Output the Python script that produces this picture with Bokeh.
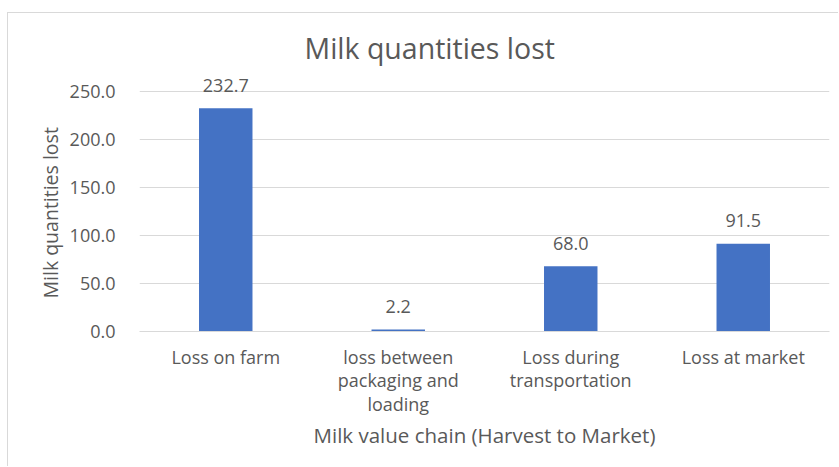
import math
from bokeh.plotting import figure
from bokeh.models import (ColumnDataSource, FactorRange, Range1d, FixedTicker,
                          NumeralTickFormatter, LabelSet, Title)
from bokeh.core.properties import value
from bokeh.embed import file_html
from bokeh.resources import INLINE

# ---- data ----
categories = ["Loss on farm",
              "loss between\npackaging and\nloading",
              "Loss during\ntransportation",
              "Loss at market"]
values = [232.7, 2.2, 68.0, 91.5]
value_labels = [f"{v:.1f}" for v in values]
y_ticks = [0, 50, 100, 150, 200, 250]
title_text = "Milk quantities lost"
y_title = "Milk quantities lost"
x_title = "Milk value chain (Harvest to Market)"

FONT = "Open Sans"
GREY = "#595959"
BLUE = "#4472C4"
FS = "18px"

src = ColumnDataSource(dict(cat=categories, val=values, lab=value_labels))

p = figure(width=831, height=454, output_backend="svg", toolbar_location=None,
           x_range=FactorRange(*categories), y_range=Range1d(0, 268),
           min_border_left=131, min_border_right=10,
           min_border_top=61, min_border_bottom=136)
p.styles = {"margin-left": "7px", "margin-top": "12px",
            "border-left": "1px solid #d9d9d9", "border-top": "1px solid #d9d9d9"}
p.outline_line_color = None
p.background_fill_color = "white"
p.border_fill_color = "white"

p.vbar(x="cat", top="val", width=0.31, source=src, color=BLUE, line_color=None)

labels = LabelSet(x="cat", y="val", text="lab", source=src, text_align="center",
                  text_baseline="middle", y_offset=23, text_font=value(FONT),
                  text_font_size=FS, text_color=GREY)
p.add_layout(labels)

# y axis
p.yaxis.ticker = FixedTicker(ticks=y_ticks)
p.yaxis.formatter = NumeralTickFormatter(format="0.0")
p.yaxis.axis_line_color = None
p.yaxis.major_tick_line_color = None
p.yaxis.minor_tick_line_color = None
p.yaxis.major_tick_out = 0
p.yaxis.major_label_standoff = 24
p.yaxis.major_label_text_font = FONT
p.yaxis.major_label_text_font_size = FS
p.yaxis.major_label_text_color = GREY

# x axis
p.xaxis.axis_line_color = "#d9d9d9"
p.xaxis.major_tick_line_color = None
p.xaxis.major_tick_out = 0
p.xaxis.major_label_standoff = 13
p.xaxis.major_label_text_font = FONT
p.xaxis.major_label_text_font_size = FS
p.xaxis.major_label_text_color = GREY
p.xaxis.major_label_text_line_height = 0.98
p.xaxis.axis_label = x_title
p.xaxis.axis_label_text_font = FONT
p.xaxis.axis_label_text_font_size = "20.5px"
p.xaxis.axis_label_text_font_style = "normal"
p.xaxis.axis_label_text_color = GREY
p.xaxis.axis_label_standoff = 2

p.xgrid.grid_line_color = None
p.ygrid.grid_line_color = "#d9d9d9"

# chart title
p.title = Title(text=title_text, align="left", offset=165, standoff=16,
                text_font=FONT, text_font_size="28.5px", text_font_style="normal",
                text_color=GREY)
# y axis title
p.add_layout(Title(text=y_title, align="left", offset=33, standoff=6,
                   text_font=FONT, text_font_size="19.5px", text_font_style="normal",
                   text_color=GREY), "left")

open("out.html", "w").write(file_html(p, INLINE))
